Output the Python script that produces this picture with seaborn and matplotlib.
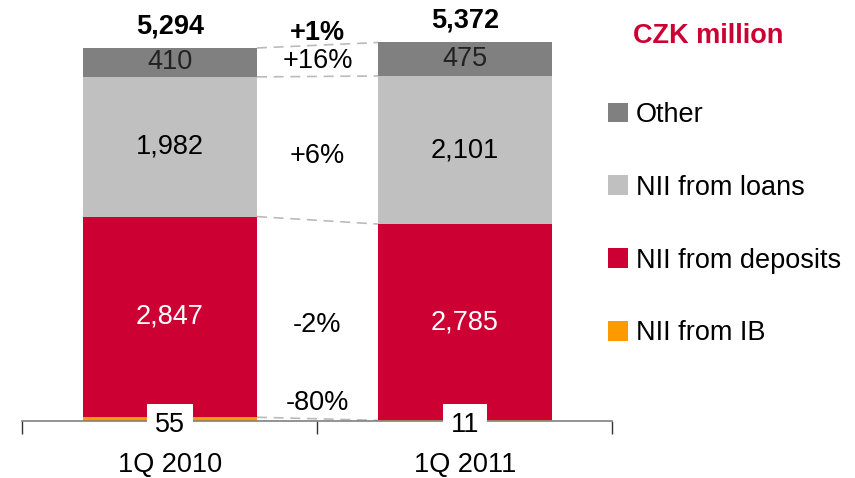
import numpy as np
import pandas as pd
import matplotlib
matplotlib.use("Agg")
import matplotlib.pyplot as plt
import seaborn as sns
from matplotlib.patches import Patch

# data (CZK million), stacked bottom -> top
periods = ["1Q 2010", "1Q 2011"]
segments = ["NII from IB", "NII from deposits", "NII from loans", "Other"]
nii_ib = [55, 11]
nii_deposits = [2847, 2785]
nii_loans = [1982, 2101]
other = [410, 475]
totals = [5294, 5372]
change_labels = ["-80%", "-2%", "+6%", "+16%"]
total_change = "+1%"

colors = {"NII from IB": "#FF9900", "NII from deposits": "#CC0033",
          "NII from loans": "#C0C0C0", "Other": "#808080"}
text_colors = {"NII from IB": "black", "NII from deposits": "white",
               "NII from loans": "black", "Other": "#222222"}

sns.set_theme(style="white")
plt.rcParams["font.family"] = ["Liberation Sans", "DejaVu Sans"]
plt.rcParams["text.color"] = "black"
plt.rcParams["xtick.labelcolor"] = "black"
FS = 19.5

df = pd.DataFrame({"period": periods, "NII from IB": nii_ib,
                   "NII from deposits": nii_deposits,
                   "NII from loans": nii_loans, "Other": other})
cum = df[segments].cumsum(axis=1)

fig = plt.figure(figsize=(8.55, 4.78), dpi=100)
ax = fig.add_axes([0.0263, 0.119, 0.69, 0.881])

bar_w = 0.59
# draw cumulative tops from largest to smallest so layers stack
for seg in reversed(segments):
    sns.barplot(x=df["period"], y=cum[seg], color=colors[seg], width=bar_w,
                ax=ax, saturation=1, linewidth=0)

ax.set_xlim(-0.5, 1.5)
ax.set_ylim(0, 5975)
ax.set_xlabel("")
ax.set_ylabel("")
ax.set_yticks([])
for s in ["left", "right", "top"]:
    ax.spines[s].set_visible(False)
ax.spines["bottom"].set_color("#808080")
ax.spines["bottom"].set_linewidth(1.2)
ax.set_xticks([0, 1])
ax.set_xticklabels(periods, fontsize=FS, color="black")
ax.tick_params(axis="x", which="major", length=0, pad=22)
ax.set_xticks([-0.5, 0.5, 1.5], minor=True)
ax.tick_params(axis="x", which="minor", length=9, width=1, color="#333333",
               direction="out", bottom=True)

# segment value labels
for i in range(len(periods)):
    prev = 0
    for seg in segments:
        top = cum.loc[i, seg]
        val = df.loc[i, seg]
        if seg == "NII from IB":
            ax.text(i, -50, f"{val:,}", ha="center", va="center", fontsize=FS,
                    color="black", zorder=5, clip_on=False,
                    bbox=dict(boxstyle="square,pad=0.3", fc="white", ec="none"))
        else:
            ax.text(i, (prev + top) / 2, f"{val:,}", ha="center", va="center",
                    fontsize=FS, color=text_colors[seg])
        prev = top
    ax.text(i, totals[i] + 310, f"{totals[i]:,}", ha="center", va="center",
            fontsize=FS, fontweight="bold", color="black")

# dashed connectors between bars
half = bar_w / 2
for seg in segments:
    ax.plot([half, 1 - half], [cum.loc[0, seg], cum.loc[1, seg]],
            color="#BBBBBB", linestyle=(0, (6, 4)), linewidth=1.2, zorder=1)

# change labels in the gap
prev = np.zeros(2)
for seg, lab in zip(segments, change_labels):
    top = cum[seg].values
    y = ((prev + top) / 2).mean()
    if seg == "NII from IB":
        y = 250
    elif seg == "NII from deposits":
        y = 1360
    elif seg == "NII from loans":
        y = 3760
    ax.text(0.5, y, lab, ha="center", va="center", fontsize=FS, color="black")
    prev = top
ax.text(0.5, max(totals) + 130, total_change, ha="center", va="center",
        fontsize=FS, fontweight="bold", color="black")

# legend
handles = [Patch(facecolor=colors[s], edgecolor="none") for s in reversed(segments)]
leg = fig.legend(handles, list(reversed(segments)), loc="upper left",
                 bbox_to_anchor=(0.711, 0.787), frameon=False, fontsize=FS,
                 handlelength=0.74, handleheight=0.74, handletextpad=0.3,
                 labelspacing=1.73, borderpad=0, borderaxespad=0)
for t in leg.get_texts():
    t.set_color("black")
fig.text(0.828, 0.925, "CZK million", ha="center", va="center", fontsize=FS,
         fontweight="bold", color="#CC0033")

fig.savefig("out.png", dpi=100)
